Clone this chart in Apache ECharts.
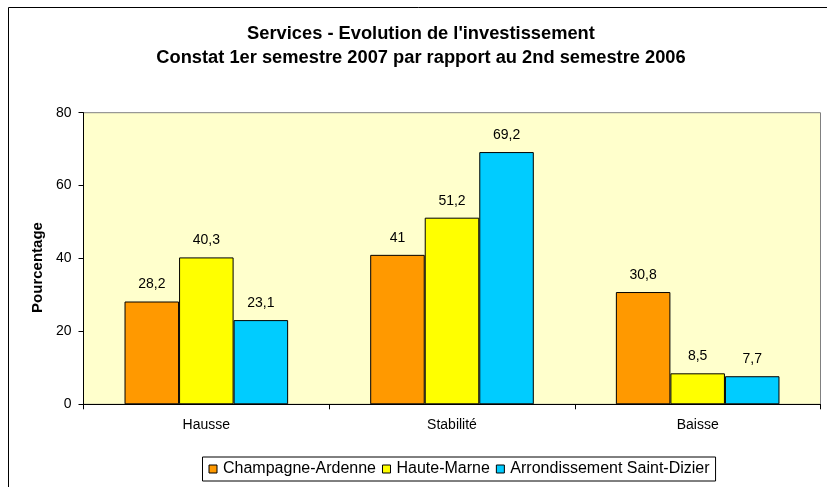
<!DOCTYPE html>
<html>
<head>
<meta charset="utf-8">
<script src="https://cdn.jsdelivr.net/npm/echarts@6/dist/echarts.min.js"></script>
<style>
html,body{margin:0;padding:0;background:#fff;}
#chart{width:827px;height:487px;}
</style>
</head>
<body>
<div id="chart"></div>
<script>
const categories = ['Hausse', 'Stabilité', 'Baisse'];
const seriesNames = ['Champagne-Ardenne', 'Haute-Marne', 'Arrondissement Saint-Dizier'];
const champagneArdenne = [28.2, 41, 30.8];
const hauteMarne = [40.3, 51.2, 8.5];
const saintDizier = [23.1, 69.2, 7.7];
const yTicks = [0, 20, 40, 60, 80];
const titleLines = ["Services - Evolution de l'investissement", 'Constat 1er semestre 2007 par rapport au 2nd semestre 2006'];
const yAxisName = 'Pourcentage';
const colors = ['#FF9900', '#FFFF00', '#00CCFF'];

const chart = echarts.init(document.getElementById('chart'));
const font = 'Arial, "Liberation Sans", sans-serif';
const values = [champagneArdenne, hauteMarne, saintDizier];

const series = values.map((v, i) => ({
  name: seriesNames[i],
  type: 'bar',
  data: v,
  barGap: '0%',
  barCategoryGap: '33.4%',
  itemStyle: { color: colors[i], borderColor: '#000', borderWidth: 1 },
  label: {
    show: true, position: 'top', distance: 10,
    fontFamily: font, fontSize: 14, color: '#000',
    formatter: p => String(p.value).replace('.', ',')
  },
  emphasis: { disabled: true },
  animation: false
}));

chart.setOption({
  animation: false,
  backgroundColor: '#fff',
  graphic: [
    { type: 'rect', shape: { x: 8.5, y: 7.5, width: 900, height: 600 },
      style: { fill: 'none', stroke: '#000', lineWidth: 1 }, z: -10 },
    { type: 'text', x: 421, y: 34,
      style: { text: titleLines[0], font: 'bold 18.3px ' + font, fill: '#000', align: 'center', verticalAlign: 'middle' } },
    { type: 'text', x: 421, y: 57.5,
      style: { text: titleLines[1], font: 'bold 18.3px ' + font, fill: '#000', align: 'center', verticalAlign: 'middle' } },
    { type: 'text', x: 37.5, y: 267.5, rotation: Math.PI / 2,
      style: { text: yAxisName, font: 'bold 15px ' + font, fill: '#000', align: 'center', verticalAlign: 'middle' } }
  ],
  grid: { left: 83.5, top: 112.7, right: 6.5, bottom: 82.7, show: true,
    backgroundColor: '#FFFFCC', borderColor: '#808080', borderWidth: 1 },
  legend: {
    data: seriesNames, left: 202.5, top: 457,
    icon: 'rect', itemWidth: 8, itemHeight: 8, itemGap: 6,
    padding: [4, 6, 4, 6],
    borderColor: '#000', borderWidth: 1,
    textStyle: { fontFamily: font, fontSize: 16, color: '#000', padding: [0, 0, 0, 1] },
    itemStyle: { borderColor: '#000', borderWidth: 1 }
  },
  xAxis: {
    type: 'category', data: categories,
    axisLine: { lineStyle: { color: '#000', width: 1 } },
    axisTick: { show: true, inside: false, length: 5, lineStyle: { color: '#000' } },
    axisLabel: { fontFamily: font, fontSize: 14, color: '#000', margin: 14 },
    splitLine: { show: false }
  },
  yAxis: {
    type: 'value', min: yTicks[0], max: yTicks[yTicks.length - 1], interval: 20,
    axisLine: { show: true, lineStyle: { color: '#000', width: 1 } },
    axisTick: { show: true, inside: false, length: 5, lineStyle: { color: '#000' } },
    axisLabel: { fontFamily: font, fontSize: 14, color: '#000', margin: 12 },
    splitLine: { show: false }
  },
  series: series
});
</script>
</body>
</html>
